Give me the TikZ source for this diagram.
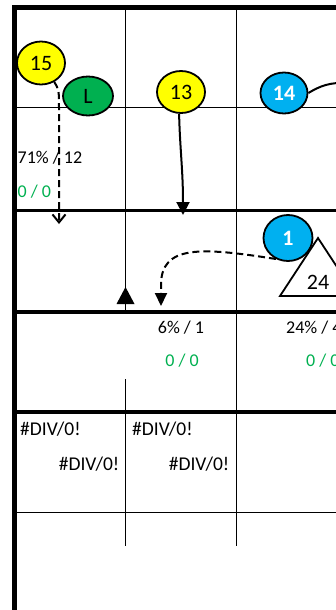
\documentclass[tikz,border=0pt]{standalone}
\usepackage{fontspec}
\setmainfont{Carlito}
\usepackage{tikz}
\usetikzlibrary{arrows.meta,shapes.geometric,positioning}
\usepackage{xcolor}
\definecolor{xlyellow}{RGB}{255,255,0}
\definecolor{xlgreen}{RGB}{0,176,80}
\definecolor{xlblue}{RGB}{0,176,240}
\definecolor{xltext}{RGB}{0,176,80}

\begin{document}
\begin{tikzpicture}[x=1pt,y=-1pt,
    bubble/.style={draw, ellipse, line width=1.8pt, inner sep=0pt, font=\fontsize{22}{26}\selectfont},
    cell/.style={inner sep=0pt, font=\fontsize{18}{21}\selectfont},
    errcell/.style={inner sep=0pt, font=\fontsize{19.5}{22}\selectfont},
    dashline/.style={line width=2pt, dash pattern=on 7pt off 4pt}]
    \useasboundingbox (0,0) rectangle (336,610);

    % Thin grid lines
    \draw[line width=1pt] (125,7) -- (125,312);
    \draw[line width=1pt] (125,379) -- (125,546);
    \draw[line width=1pt] (236,7) -- (236,546);
    \draw[line width=1pt] (15,107) -- (340,107);
    \draw[line width=1pt] (15,512) -- (340,512);

    % Thick borders
    \draw[line width=3.5pt] (15,210.5) -- (340,210.5);
    \draw[line width=3.5pt] (15,312) -- (340,312);
    \draw[line width=3.5pt] (15,412) -- (340,412);
    \draw[line width=4.5pt] (12.5,7.5) -- (340,7.5);
    \draw[line width=4.5pt] (14.5,5.5) -- (14.5,615);

    % Cell values, upper block
    \node[cell, anchor=west] (pctA) at (17.5,157.5) {71\% / 12};
    \node[cell, anchor=west, xltext] (zeroA) at (17.5,191.5) {0 / 0};

    % Cell values, middle block
    \node[cell] (pctB) at (181,328) {6\% / 1};
    \node[cell, anchor=west] (pctC) at (286,328) {24\% / 4};
    \node[cell, xltext] (zeroB) at (182,361) {0 / 0};
    \node[cell, anchor=west, xltext] (zeroC) at (306,361) {0 / 0};

    % Error cells
    \node[errcell, anchor=west] (errA) at (20,429) {\#DIV/0!};
    \node[errcell, anchor=east] (errB) at (119.5,464) {\#DIV/0!};
    \node[errcell, anchor=west] (errC) at (132,429) {\#DIV/0!};
    \node[errcell, anchor=east] (errD) at (229.5,464) {\#DIV/0!};

    % Triangle marker
    \draw[line width=1.8pt, fill=white] (280,296) -- (318,238) -- (356,296) -- cycle;
    \node[cell, font=\fontsize{22}{26}\selectfont] (tri) at (318,282) {24};
    \fill (116.5,304) -- (125.5,287) -- (134.5,304) -- cycle;

    % Bubbles
    \node[bubble, fill=xlyellow, minimum width=48pt, minimum height=43pt] (n15) at (41,63) {15};
    \node[bubble, fill=xlgreen, minimum width=50pt, minimum height=39pt] (nL) at (88,96) {L};
    \node[bubble, fill=xlyellow, minimum width=48pt, minimum height=42pt] (n13) at (181,92) {13};
    \node[bubble, fill=xlblue, text=white, font=\fontsize{22}{26}\selectfont\bfseries,
          minimum width=47pt, minimum height=41pt] (n14) at (284,93) {14};
    \node[bubble, fill=xlblue, text=white, font=\fontsize{22}{26}\selectfont\bfseries,
          minimum width=49pt, minimum height=46pt] (n1) at (288,238) {1};

    % Arrow ends
    \coordinate (tipA) at (59,224);
    \coordinate (tipB) at (183,215);
    \coordinate (tipC) at (161,306);
    \coordinate (offR) at (348,83);

    % Connectors
    \draw[dashline, -{Straight Barb[length=8pt, width=13pt, line width=2pt]}]
        (n15.-55) .. controls (59,90) .. (59,110) -- (tipA);
    \draw[line width=2pt, -{Triangle[length=13pt, width=13pt]}]
        (n13.-95) .. controls (180,150) and (183,170) .. (tipB);
    \draw[line width=2pt] (n14.east) .. controls (320,86) and (330,82) .. (offR);
    \draw[dashline, -{Triangle[length=13pt, width=12pt]}]
        (n1.-120) .. controls (200,247) and (161,245) .. (161,285) -- (tipC);
\end{tikzpicture}
\end{document}
